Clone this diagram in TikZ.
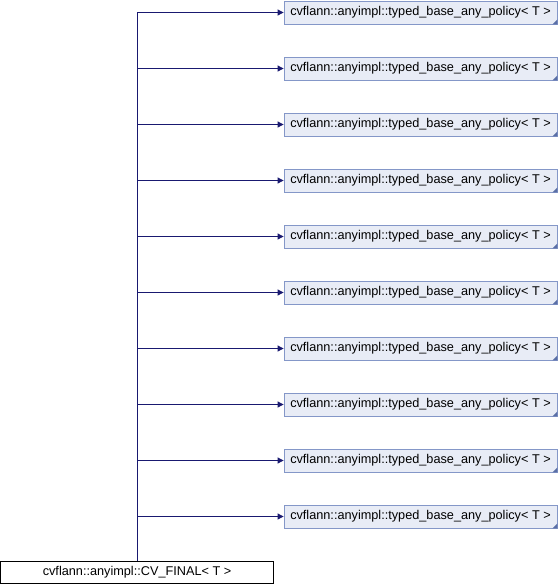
\documentclass[tikz,border=0pt]{standalone}
\usepackage{fontspec}
\setmainfont{Liberation Sans}
\usetikzlibrary{arrows.meta}
\definecolor{edgeblue}{HTML}{191970}
\definecolor{boxfill}{HTML}{E8ECF6}
\definecolor{boxline}{HTML}{8497C8}
\definecolor{cornerc}{HTML}{5A6FA6}
\begin{document}
\begin{tikzpicture}[x=1pt,y=-1pt,
  classbox/.style={draw=boxline, fill=boxfill, line width=0.8pt, minimum width=273pt, minimum height=23pt, inner sep=0pt, font=\fontsize{12.7}{14}\selectfont},
  mainbox/.style={draw=black, fill=white, line width=0.8pt, minimum width=273pt, minimum height=22pt, inner sep=0pt, font=\fontsize{12.7}{14}\selectfont},
  inherit/.style={draw=edgeblue, line width=0.8pt, -{Triangle[length=6pt,width=6pt]}}]
\useasboundingbox (0,0) rectangle (558,584);
\foreach \k in {0,...,9} {
  \node[classbox] (p\k) at (420.5, 12.5+56*\k) {cvflann::anyimpl::typed\_base\_any\_policy< T >};
  \fill[cornerc] (p\k.south east) -- ++(0,-5) -- ++(-5,5) -- cycle;
}
\node[mainbox] (m) at (137, 572) {cvflann::anyimpl::CV\_FINAL< T >};
\foreach \k in {0,...,9} {
  \draw[inherit] (m.north) |- (p\k.west);
}
\end{tikzpicture}
\end{document}
